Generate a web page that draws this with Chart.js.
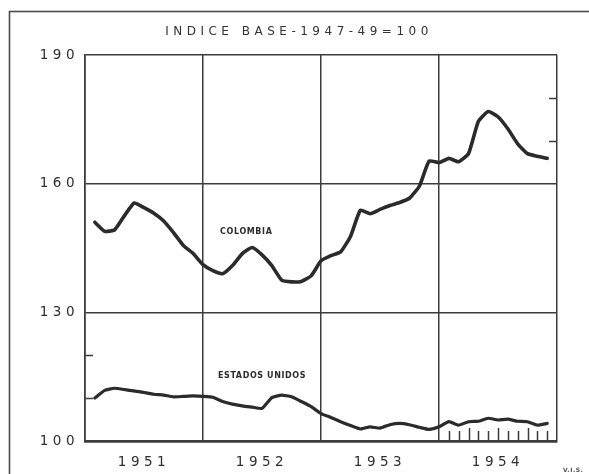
<!DOCTYPE html>
<html>
<head>
<meta charset="utf-8">
<script src="https://cdn.jsdelivr.net/npm/chart.js@4"></script>
<style>
html,body{margin:0;padding:0;background:#ffffff;}
#wrap{width:589px;height:474px;}
</style>
</head>
<body>
<div id="wrap"><canvas id="c" width="589" height="474"></canvas></div>
<script>
// ---- data (x = month index from Jan 1951; points sit on month boundaries) ----
const months = [1,2,3,4,5,6,7,8,9,10,11,12,13,14,15,16,17,18,19,20,21,22,23,24,
  25,26,27,28,29,30,31,32,33,34,35,36,37,38,39,40,41,42,43,44,45,46,47];
const colombia = [151.0,148.9,149.2,152.5,155.5,154.4,153.1,151.3,148.6,145.6,143.7,141.1,
  139.7,139.0,140.9,143.7,145.1,143.4,140.9,137.5,137.1,137.2,138.5,142.0,
  143.2,144.1,147.7,153.8,153.0,154.0,154.9,155.6,156.6,159.4,165.3,164.9,
  165.9,165.1,167.0,174.5,176.8,175.6,172.8,169.3,167.0,166.4,165.9];
const estadosUnidos = [110.0,111.8,112.3,112.0,111.7,111.3,110.9,110.7,110.3,110.4,110.5,110.4,
  110.2,109.2,108.6,108.2,107.9,107.6,110.1,110.7,110.3,109.2,108.0,106.4,
  105.5,104.5,103.6,102.8,103.3,103.0,103.8,104.1,103.8,103.2,102.7,103.3,
  104.5,103.7,104.5,104.6,105.3,104.9,105.1,104.6,104.5,103.7,104.1];
const yearLabels = ['1951','1952','1953','1954'];
const yearCenters = [6,18,30,42];
const yTicks = [100,130,160,190];
const leftMinorTicks = [110,120];
const rightMinorTicks = [170,180];
const bottomMinorTicks = [37,38,39,40,41,42,43,44,45,46,47];
const titleText = 'INDICE BASE-1947-49=100';
const seriesLabels = [
  {text:'COLOMBIA', x:16.4, y:148.8},
  {text:'ESTADOS UNIDOS', x:18.0, y:115.2}
];

const INK = '#2b2b2b';
const GRID = '#3c3c3c';
const FONT = "'DejaVu Sans', sans-serif";

const decor = {
  id:'decor',
  beforeDraw(chart){
    chart.ctx.letterSpacing = '4.5px';
  },
  afterDraw(chart){
    const ctx = chart.ctx;
    ctx.letterSpacing = '0px';
    const xs = chart.scales.x, ys = chart.scales.y;
    const a = chart.chartArea;
    ctx.save();
    // outer frame
    ctx.strokeStyle = '#4a4a4a';
    ctx.lineWidth = 1.6;
    ctx.strokeRect(9.5, 11.5, 640, 520);
    // minor ticks
    ctx.strokeStyle = GRID;
    ctx.lineWidth = 1.5;
    ctx.beginPath();
    leftMinorTicks.forEach(v=>{
      const y = Math.round(ys.getPixelForValue(v))+0.5;
      ctx.moveTo(a.left, y); ctx.lineTo(a.left+8, y);
    });
    rightMinorTicks.forEach(v=>{
      const y = Math.round(ys.getPixelForValue(v))+0.5;
      ctx.moveTo(a.right-8, y); ctx.lineTo(a.right, y);
    });
    bottomMinorTicks.forEach(m=>{
      const x = Math.round(xs.getPixelForValue(m))+0.5;
      const len = (m % 3 === 0) ? 13 : 10;
      ctx.moveTo(x, a.bottom); ctx.lineTo(x, a.bottom-len);
    });
    ctx.stroke();
    // series labels
    ctx.fillStyle = INK;
    ctx.font = "bold 8px " + FONT;
    ctx.textAlign = 'center';
    ctx.textBaseline = 'middle';
    ctx.letterSpacing = '0.6px';
    seriesLabels.forEach(l=>{
      ctx.fillText(l.text, xs.getPixelForValue(l.x), ys.getPixelForValue(l.y));
    });
    // title
    ctx.font = "12px " + FONT;
    ctx.fillStyle = '#333';
    ctx.letterSpacing = '4.5px';
    ctx.fillText(titleText, 299, 32);
    // corner mark
    ctx.font = "bold 6px " + FONT;
    ctx.letterSpacing = '0.5px';
    ctx.textAlign = 'left';
    ctx.fillStyle = '#555';
    ctx.fillText('V.I.S.', 563, 470);
    ctx.restore();
    ctx.letterSpacing = '0px';
  }
};

const toPts = arr => months.map((m,i)=>({x:m, y:arr[i]}));

new Chart(document.getElementById('c'), {
  type:'line',
  data:{
    datasets:[
      {label:'Colombia', data:toPts(colombia), borderColor:INK, borderWidth:3.6,
       pointRadius:0, tension:0.15, fill:false, borderCapStyle:'round', borderJoinStyle:'round'},
      {label:'Estados Unidos', data:toPts(estadosUnidos), borderColor:INK, borderWidth:3.2,
       pointRadius:0, tension:0.15, fill:false, borderCapStyle:'round', borderJoinStyle:'round'}
    ]
  },
  options:{
    responsive:false,
    devicePixelRatio:1,
    animation:false,
    layout:{padding:{top:55, right:32, bottom:0, left:0}},
    plugins:{legend:{display:false}, tooltip:{enabled:false}, title:{display:false}},
    scales:{
      x:{
        type:'linear', min:0, max:48,
        afterBuildTicks(s){ s.ticks = yearCenters.map(v=>({value:v})); },
        afterFit(s){ s.height = 33; },
        grid:{offset:true, color:GRID, lineWidth:1.5, drawTicks:false},
        border:{display:true, color:GRID, width:2.6},
        ticks:{
          callback:(v,i)=>yearLabels[i],
          padding:13, color:'#2e2e2e', maxRotation:0, autoSkip:false,
          font:{family:FONT, size:13.5}
        }
      },
      y:{
        type:'linear', min:100, max:190,
        afterBuildTicks(s){ s.ticks = yTicks.map(v=>({value:v})); },
        afterFit(s){ s.width = 85; },
        grid:{color:GRID, lineWidth:(c)=> c.tick && c.tick.value===100 ? 2.6 : 1.5, drawTicks:false},
        border:{display:true, color:GRID, width:1.6},
        ticks:{padding:6, color:'#2e2e2e', font:{family:FONT, size:13.5}}
      }
    }
  },
  plugins:[decor]
});
</script>
</body>
</html>
